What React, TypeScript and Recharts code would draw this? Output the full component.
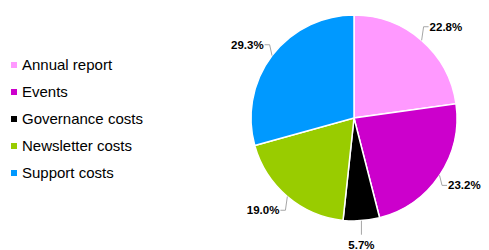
import { PieChart, Pie, Cell } from "recharts";

const categories = ["Annual report", "Events", "Governance costs", "Newsletter costs", "Support costs"];
const shares = [22.8, 23.2, 5.7, 19.0, 29.3];
const colors = ["#FF99FF", "#CC00CC", "#000000", "#99CC00", "#0099FF"];

const data = categories.map((name, i) => ({ name, value: shares[i] }));

const FONT = '"Liberation Sans", Arial, sans-serif';
const RADIAN = Math.PI / 180;

// leader line + bold percentage label
const renderLabel = (props: any) => {
    const { cx, cy, midAngle, outerRadius, value } = props;
    const cos = Math.cos(-midAngle * RADIAN);
    const sin = Math.sin(-midAngle * RADIAN);
    const sx = cx + outerRadius * cos;
    const sy = cy + outerRadius * sin;
    const text = `${Number(value).toFixed(1)}%`;

    if (Math.abs(cos) < 0.2) {
        // near the bottom/top: straight vertical line, centred text
        const dir = sin > 0 ? 1 : -1;
        const ey = sy + dir * 14;
        return (
            <g>
                <polyline points={`${sx},${sy} ${sx},${ey}`} stroke="#A6A6A6" strokeWidth={1} fill="none" />
                <text x={sx} y={ey + dir * 6} textAnchor="middle" dominantBaseline={dir > 0 ? "hanging" : "auto"}
                    fontFamily={FONT} fontSize={11.5} fontWeight="bold" fill="#000">{text}</text>
            </g>
        );
    }

    const mx = sx + cos * 3;
    const my = sy + sin * 18;
    const side = cos >= 0 ? 1 : -1;
    const ex = mx + side * 5;
    return (
        <g>
            <polyline points={`${sx},${sy} ${mx},${my} ${ex},${my}`} stroke="#A6A6A6" strokeWidth={1} fill="none" />
            <text x={ex + side * 1} y={my} textAnchor={side > 0 ? "start" : "end"} dominantBaseline="central"
                fontFamily={FONT} fontSize={11.5} fontWeight="bold" fill="#000">{text}</text>
        </g>
    );
};

export default function App() {
    return (
        <div style={{ position: "relative", width: 489, height: 250, background: "#fff" }}>
            <style>{"body{margin:0}"}</style>
            <PieChart width={489} height={250} margin={{ top: 0, right: 0, bottom: 0, left: 0 }}>
                <Pie
                    data={data}
                    dataKey="value"
                    nameKey="name"
                    cx={354}
                    cy={118}
                    outerRadius={103}
                    startAngle={90}
                    endAngle={-270}
                    stroke="#fff"
                    strokeWidth={1.5}
                    label={renderLabel}
                    labelLine={false}
                    isAnimationActive={false}
                >
                    {data.map((d, i) => (
                        <Cell key={d.name} fill={colors[i]} />
                    ))}
                </Pie>
            </PieChart>
            {/* legend */}
            <div style={{ position: "absolute", left: 11, top: 51, fontFamily: FONT, fontSize: 15, color: "#000" }}>
                {categories.map((c, i) => (
                    <div key={c} style={{ height: 27, display: "flex", alignItems: "center" }}>
                        <span style={{ width: 6, height: 6, background: colors[i], marginRight: 5, display: "inline-block" }} />
                        <span>{c}</span>
                    </div>
                ))}
            </div>
        </div>
    );
}
